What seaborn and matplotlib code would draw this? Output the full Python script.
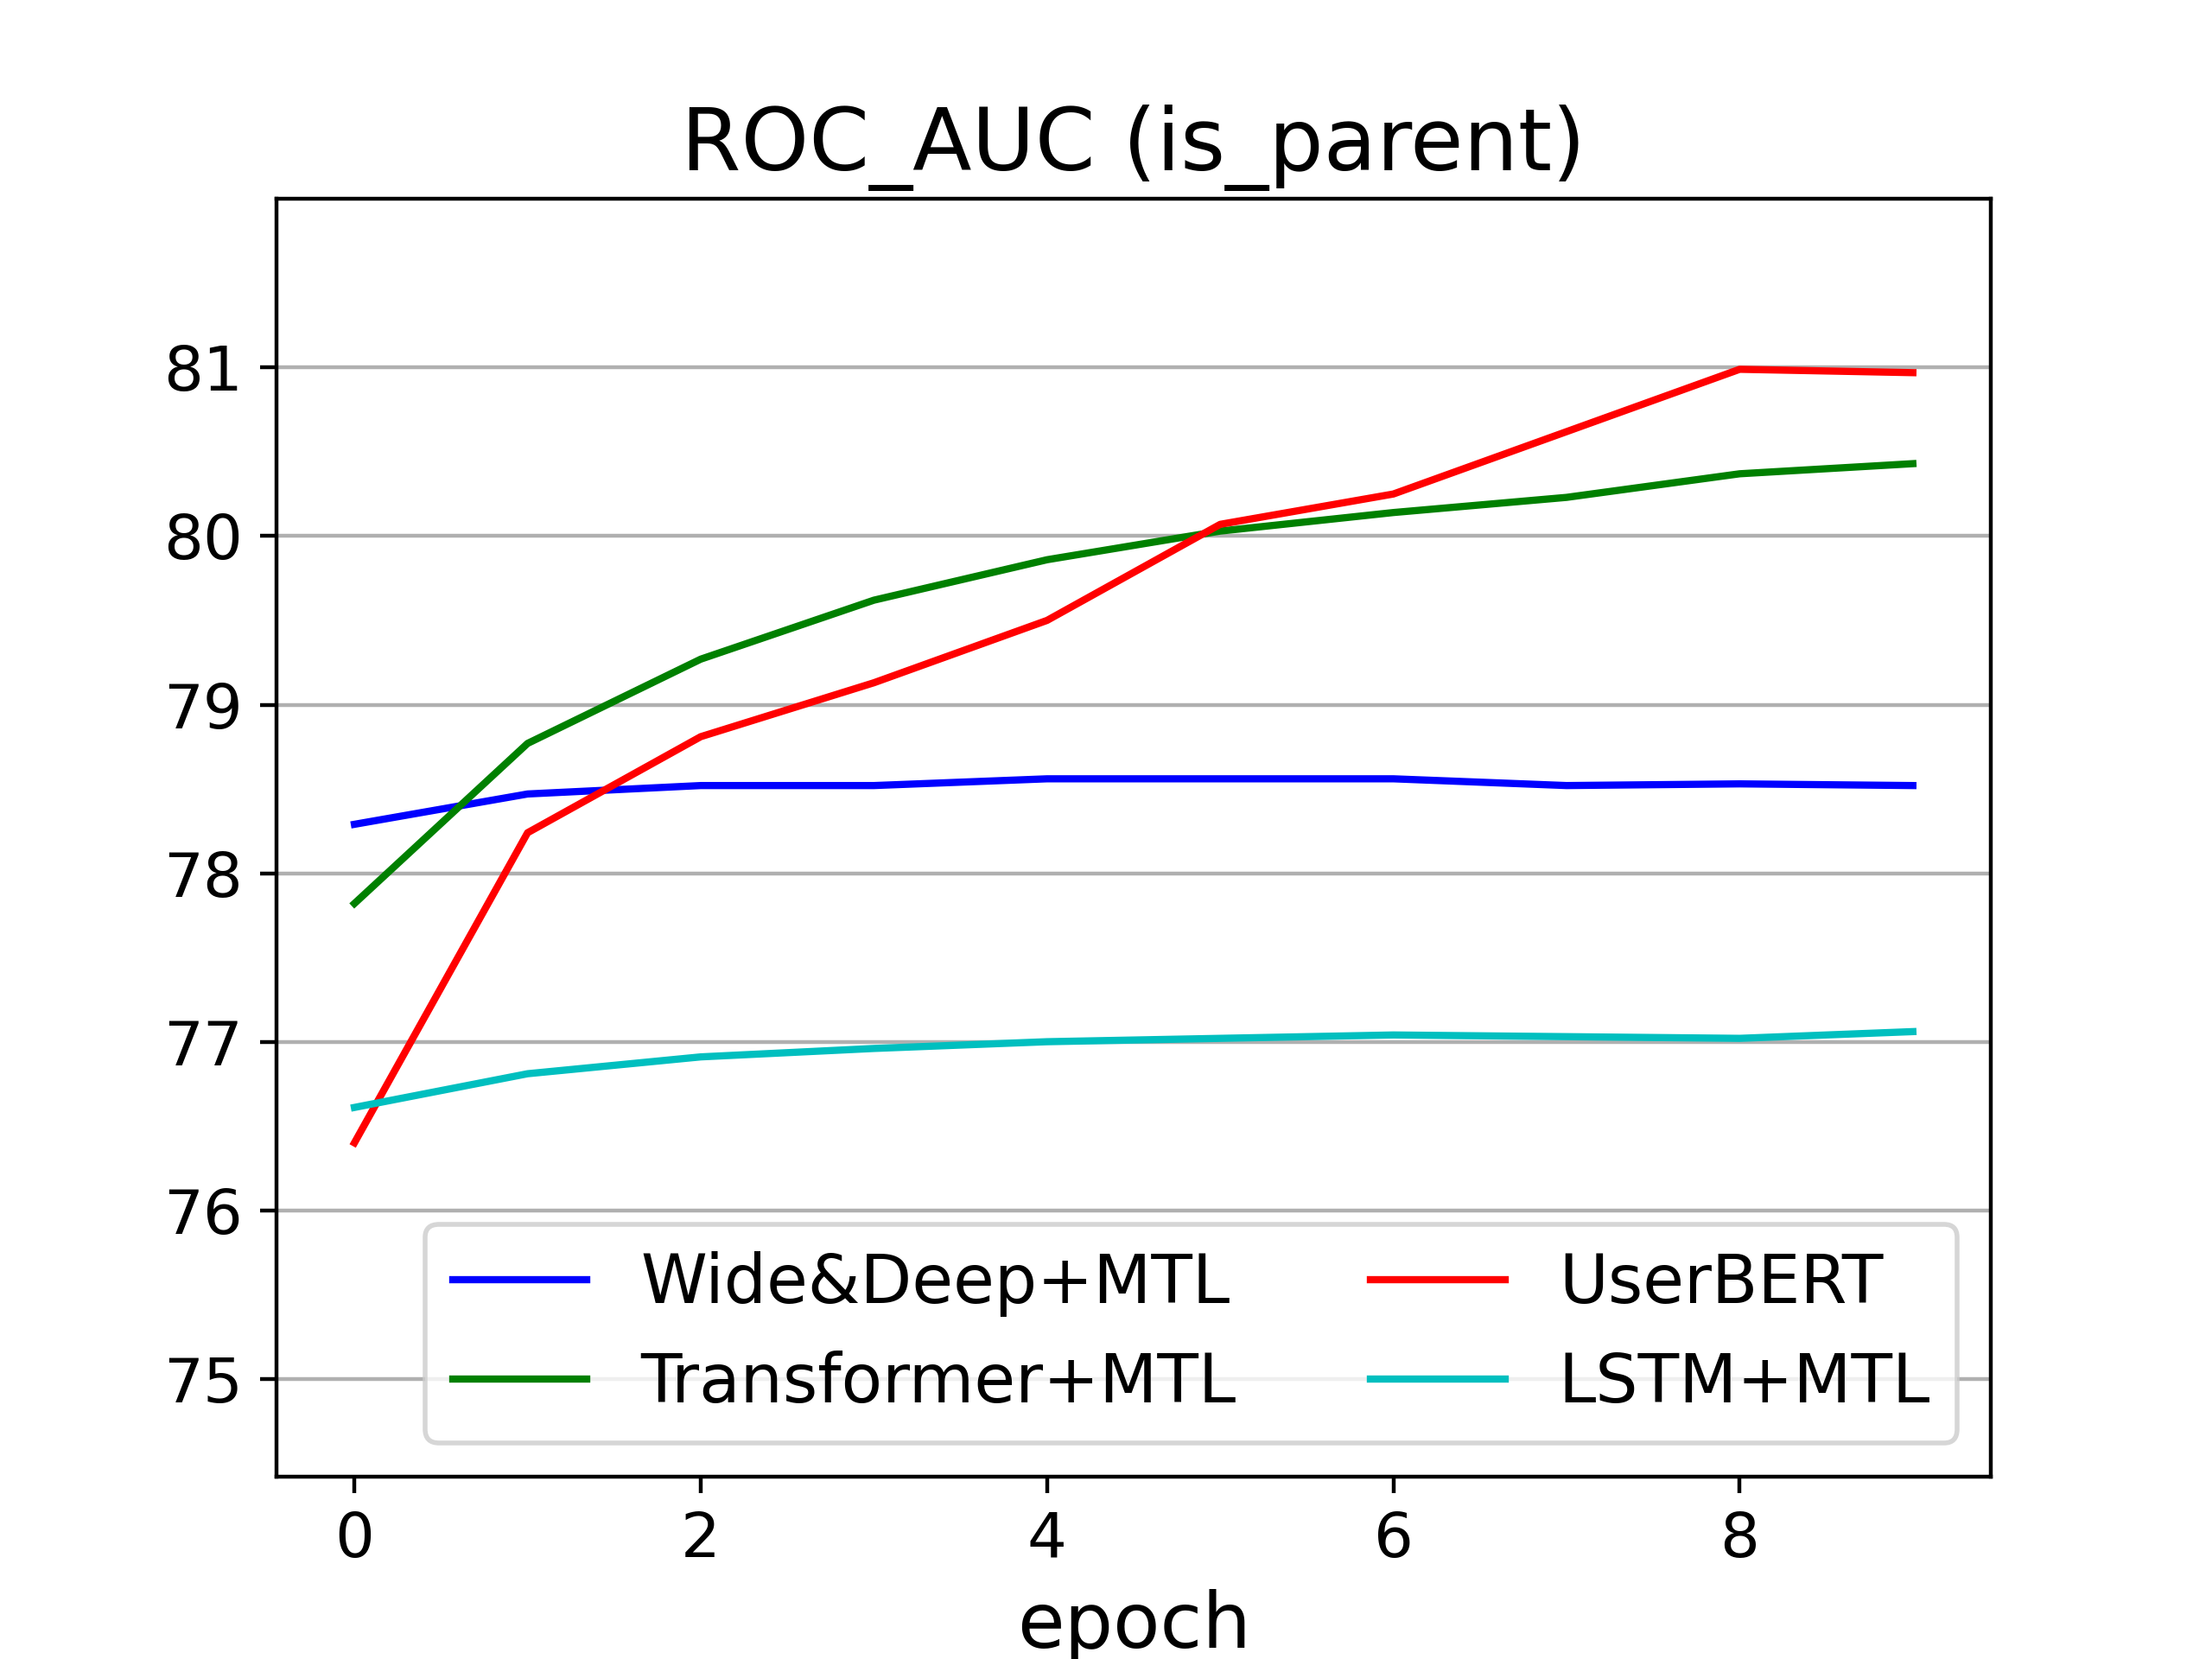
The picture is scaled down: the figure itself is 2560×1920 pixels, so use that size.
# ROC_AUC per epoch for four models
import pandas as pd
import numpy as np
import matplotlib
matplotlib.use('Agg')
import matplotlib.pyplot as plt
import seaborn as sns

epochs = list(range(10))
wide_deep = [78.29, 78.47, 78.52, 78.52, 78.56, 78.56, 78.56, 78.52, 78.53, 78.52]
transformer = [77.82, 78.77, 79.27, 79.62, 79.86, 80.03, 80.14, 80.23, 80.37, 80.43]
userbert = [76.40, 78.24, 78.81, 79.13, 79.50, 80.07, 80.25, 80.62, 80.99, 80.97]
lstm = [76.61, 76.81, 76.91, 76.96, 77.00, 77.02, 77.04, 77.03, 77.02, 77.06]

models = ['Wide&Deep+MTL', 'Transformer+MTL', 'UserBERT', 'LSTM+MTL']
colors = ['b', 'g', 'r', 'c']

df = pd.DataFrame({
    'epoch': epochs * 4,
    'auc': wide_deep + transformer + userbert + lstm,
    'model': np.repeat(models, len(epochs)),
})

fig, ax = plt.subplots(figsize=(6.4, 4.8), dpi=400)
sns.lineplot(data=df, x='epoch', y='auc', hue='model', hue_order=models,
             palette=dict(zip(models, colors)), linewidth=1.5, ax=ax)

ax.set_ylim(74.42, 82.0)
ax.set_yticks(range(75, 82))
ax.set_xticks(range(0, 10, 2))
ax.yaxis.grid(True, color='#b0b0b0', linewidth=0.8)
ax.set_axisbelow(True)
ax.tick_params(labelsize=13)
ax.set_title('ROC_AUC (is_parent)', fontsize=18)
ax.set_xlabel('epoch', fontsize=16)
ax.set_ylabel('')
ax.legend(title=None, ncol=2, loc='lower right', fontsize=14)

plt.savefig('out.png', dpi=400)
print("Figure save: out.png")
